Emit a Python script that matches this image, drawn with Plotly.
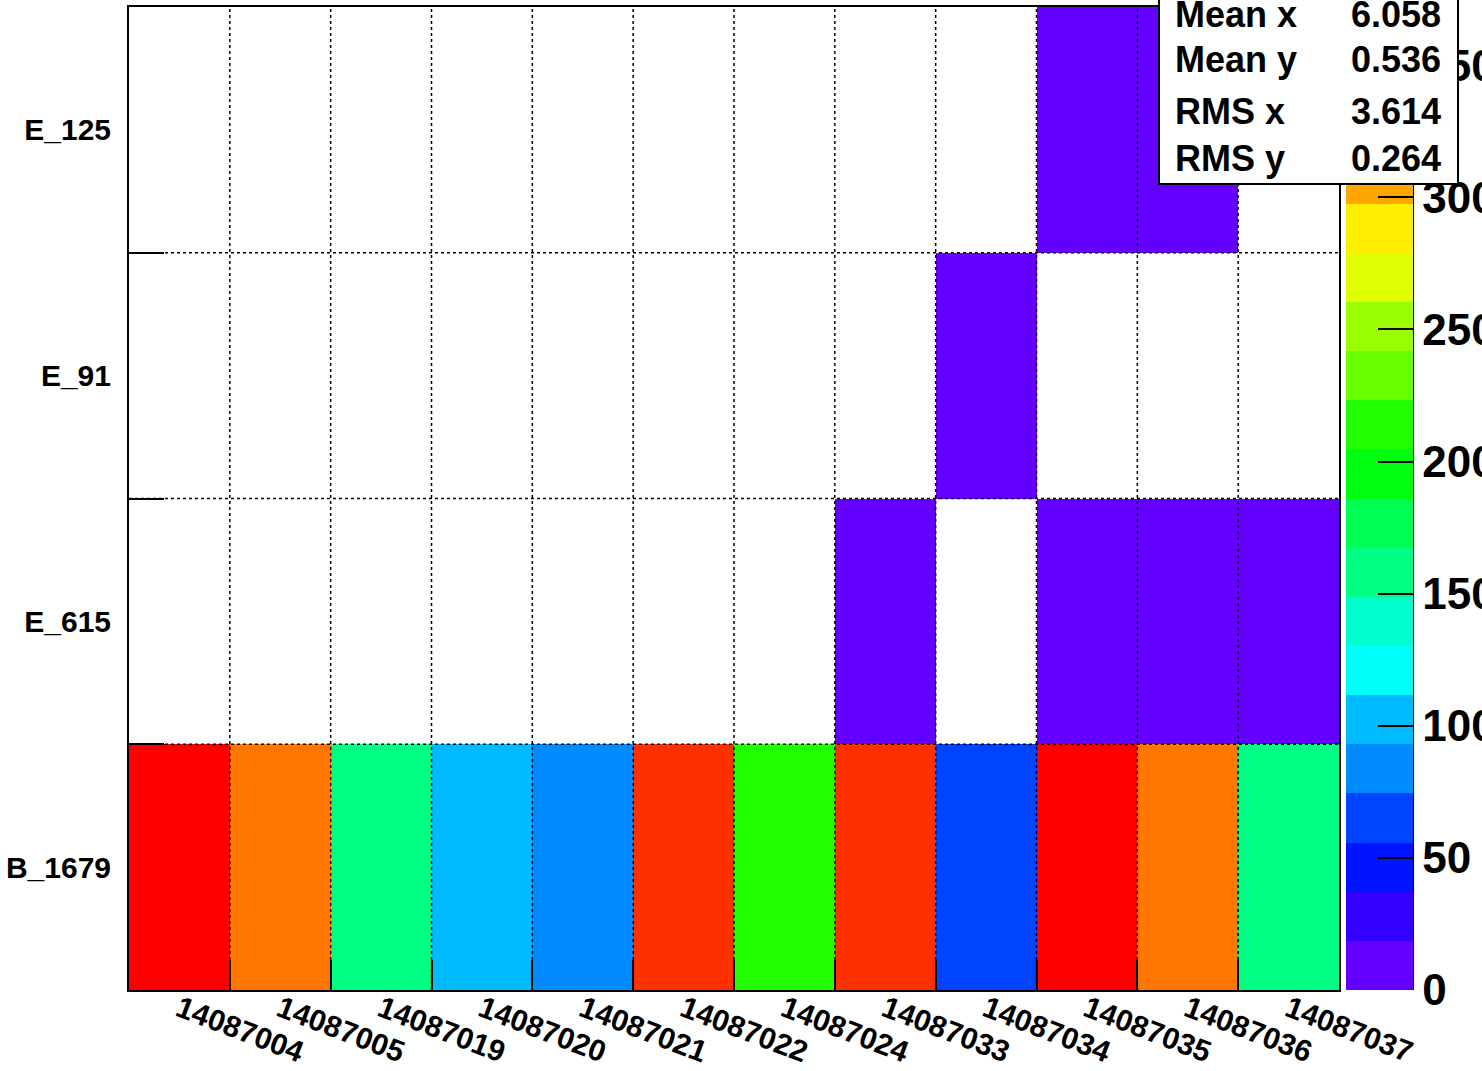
import plotly.graph_objects as go

# ---------------- data ----------------
runs = ["14087004", "14087005", "14087019", "14087020", "14087021", "14087022",
        "14087024", "14087033", "14087034", "14087035", "14087036", "14087037"]
channels = ["B_1679", "E_615", "E_91", "E_125"]          # bottom -> top
b_1679 = [372, 325, 158, 103, 84, 343, 214, 347, 66, 365, 320, 155]
e_615 = [None, None, None, None, None, None, None, 10, None, 8, 11, 6]
e_91 = [None, None, None, None, None, None, None, None, 12, None, None, None]
e_125 = [None, None, None, None, None, None, None, None, None, 9, 7, None]
z_max = 372
cbar_ticks = [0, 50, 100, 150, 200, 250, 300, 350]
stats_labels = ["Mean x", "Mean y", "RMS x", "RMS y"]
stats_values = ["6.058", "0.536", "3.614", "0.264"]

# ROOT "pretty" palette sampled at 20 contour levels (violet -> red)
palette = ["#6300ff", "#3300ff", "#0014ff", "#0044ff", "#008bff", "#00bbff",
           "#00fffb", "#00ffcc", "#00ff85", "#00ff55", "#00ff0e", "#22ff00",
           "#69ff00", "#99ff00", "#e0ff00", "#ffee00", "#ffa700", "#ff7700",
           "#ff3000", "#ff0000"]

n = len(palette)
colorscale = []
for i, c in enumerate(palette):
    colorscale.append([i / n, c])
    colorscale.append([(i + 1) / n, c])

FONT = "Liberation Sans, Arial, Helvetica, sans-serif"

z = [b_1679, e_615, e_91, e_125]
nx, ny = len(runs), len(channels)

fig = go.Figure()
fig.add_trace(go.Heatmap(
    x=list(range(nx)), y=list(range(ny)), z=z,
    zmin=0, zmax=z_max, colorscale=colorscale,
    hoverongaps=False,
    colorbar=dict(
        x=1.0058, xanchor="left", xpad=0,
        y=0.5, yanchor="middle", len=1, lenmode="fraction", ypad=0,
        thickness=67, thicknessmode="pixels",
        outlinewidth=0,
        tickmode="array", tickvals=cbar_ticks,
        ticks="inside", ticklen=35, tickwidth=2, tickcolor="black",
        tickfont=dict(family=FONT, size=44, color="black", weight="bold"),
    ),
))

# grid lines at bin edges (dotted, drawn above the cells)
shapes = []
for i in range(nx - 1):
    shapes.append(dict(type="line", xref="x", yref="paper", x0=i + 0.5, x1=i + 0.5,
                       y0=0, y1=1, layer="above",
                       line=dict(color="black", width=1.5, dash="dot")))
for j in range(ny - 1):
    shapes.append(dict(type="line", xref="paper", yref="y", x0=0, x1=1,
                       y0=j + 0.5, y1=j + 0.5, layer="above",
                       line=dict(color="black", width=1.5, dash="dot")))
# right edge of colour bar
shapes.append(dict(type="line", xref="paper", yref="paper", x0=1.0612, x1=1.0612,
                   y0=0, y1=1, line=dict(color="black", width=2)))

annotations = []
# stats box background
annotations.append(dict(xref="paper", yref="paper", x=0.8504, y=0.8189,
                        xanchor="left", yanchor="bottom", text=" ",
                        width=297, height=230, showarrow=False,
                        bgcolor="white", bordercolor="black", borderwidth=2,
                        borderpad=0))
ys = [0.9919, 0.9461, 0.8942, 0.8454]
for lab, val, yy in zip(stats_labels, stats_values, ys):
    annotations.append(dict(xref="paper", yref="paper", x=0.8628, y=yy,
                            xanchor="left", yanchor="middle", text=lab,
                            showarrow=False,
                            font=dict(family=FONT, size=36, color="black", weight="bold")))
    annotations.append(dict(xref="paper", yref="paper", x=1.0860, y=yy,
                            xanchor="right", yanchor="middle", text=val,
                            showarrow=False,
                            font=dict(family=FONT, size=36, color="black", weight="bold")))

fig.update_layout(
    width=1482, height=1071,
    margin=dict(l=129, r=143, t=7, b=81, autoexpand=False),
    paper_bgcolor="white", plot_bgcolor="white",
    showlegend=False,
    shapes=shapes, annotations=annotations,
    xaxis=dict(
        range=[-0.5, nx - 0.5], tickmode="array",
        tickvals=list(range(nx)), ticktext=runs, tickangle=21,
        ticks="", showgrid=False, zeroline=False, automargin=False,
        showline=True, mirror=True, linecolor="black", linewidth=2,
        layer="above traces", ticklabelstandoff=-12,
        tickfont=dict(family=FONT, size=30, color="black", weight="bold"),
        minor=dict(tickmode="array", tickvals=[i + 0.5 for i in range(nx - 1)],
                   ticks="inside", ticklen=30, tickwidth=2, tickcolor="black",
                   showgrid=False),
    ),
    yaxis=dict(
        range=[-0.5, ny - 0.5], tickmode="array",
        tickvals=list(range(ny)), ticktext=channels,
        ticks="", showgrid=False, zeroline=False, automargin=False,
        showline=True, mirror=True, linecolor="black", linewidth=2,
        layer="above traces", ticklabelstandoff=10,
        tickfont=dict(family=FONT, size=30, color="black", weight="bold"),
        minor=dict(tickmode="array", tickvals=[j + 0.5 for j in range(ny - 1)],
                   ticks="inside", ticklen=35, tickwidth=2, tickcolor="black",
                   showgrid=False),
    ),
)

fig.write_html("out.html", config={"displayModeBar": False},
               post_script="document.body.style.margin='0';")
